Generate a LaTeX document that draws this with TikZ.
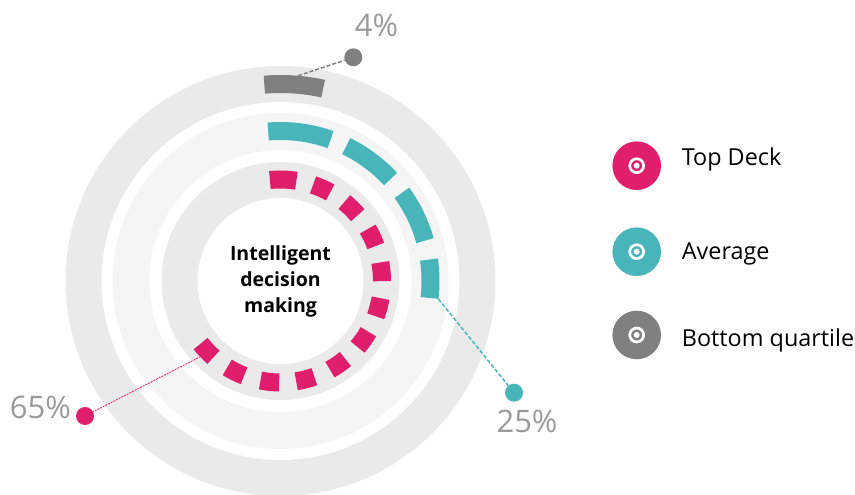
\documentclass[tikz,border=0pt]{standalone}
\usepackage{fontspec}
\setmainfont{Open Sans}
\definecolor{deckpink}{HTML}{E01E6B}
\definecolor{avgteal}{HTML}{48B5BA}
\definecolor{botgray}{HTML}{808080}
\definecolor{ringgray}{HTML}{EAEAEA}
\definecolor{ringlight}{HTML}{F5F5F5}
\definecolor{pctgray}{HTML}{9A9A9A}

\begin{document}
\begin{tikzpicture}[x=1pt,y=1pt,
  bar/.style={line width=18pt},
  dot/.style={circle,fill,inner sep=0pt,minimum size=18pt},
  pct/.style={text=pctgray,inner sep=0pt,font=\fontsize{31}{31}\selectfont},
  legdot/.style={circle,fill,inner sep=0pt,minimum size=48.6pt},
  legtext/.style={anchor=base west,inner sep=0pt,font=\fontsize{23.4}{23.4}\selectfont}]
	\useasboundingbox (0,0) rectangle (855,495);
	\clip (0,0) rectangle (855,495);
	\coordinate (c) at (280.5,214);
	% rings
	\fill[ringgray] (c) circle (215);
	\fill[white] (c) circle (179);
	\fill[ringlight] (c) circle (168);
	\fill[white] (c) circle (131);
	\fill[ringgray] (c) circle (119);
	\fill[white] (c) circle (83);
	% top deck
	\draw[bar,deckpink] ([shift={(96:101.5)}]c) arc (96:81:101.5);
	\foreach \k in {0,...,10}{
		\pgfmathsetmacro\sa{71.3-20.26*\k}
		\pgfmathsetmacro\ea{60.7-20.26*\k}
		\draw[bar,deckpink] ([shift={(\sa:101.5)}]c) arc (\sa:\ea:101.5);
	}
	% average
	\foreach \sa/\ea in {94.7/70.5,64/42.8,36/15.6,8.2/-6.5}
		\draw[bar,avgteal] ([shift={(\sa:150)}]c) arc (\sa:\ea:150);
	% bottom quartile
	\draw[bar,botgray] ([shift={(94.7:197)}]c) arc (94.7:77.5:197);
	% leaders
	\coordinate (end4) at ([shift={(85.1:206)}]c);
	\coordinate (end25) at ([shift={(-6.5:159)}]c);
	\coordinate (end65) at ([shift={(-136.6:110)}]c);
	\node[dot,botgray] (dot4) at (353.3,437.7) {};
	\node[dot,avgteal] (dot25) at (514,102.3) {};
	\node[dot,deckpink] (dot65) at (85,79) {};
	\draw[botgray,line width=1.5pt,dash pattern=on 4pt off 2pt] (end4) -- (dot4);
	\draw[avgteal,line width=1.5pt,dash pattern=on 4pt off 2pt] (end25) -- (dot25);
	\draw[deckpink,line width=0.8pt,dash pattern=on 2pt off 1pt] (end65) -- (dot65);
	\node[pct] (pct4) at (376.5,470) {4\%};
	\node[pct] (pct25) at (527,73.3) {25\%};
	\node[pct] (pct65) at (40.3,88) {65\%};
	% centre
	\node[align=center,font=\fontsize{19.5}{26}\selectfont\bfseries] (title) at (c) {Intelligent\\decision\\making};
	% legend
	\foreach \nm/\col/\y/\ty/\txt in {Top/deckpink/329.3/329.3/Top Deck,
		Avg/avgteal/243.3/235.7/Average,
		Bot/botgray/160/148.3/Bottom quartile}{
		\node[legdot,\col] (leg\nm) at (636.7,\y) {};
		\draw[white,line width=2.7pt] (leg\nm) circle (6.95);
		\fill[white] (leg\nm) circle (3);
		\node[legtext] (txt\nm) at (681.7,\ty) {\txt};
	}
\end{tikzpicture}
\end{document}
